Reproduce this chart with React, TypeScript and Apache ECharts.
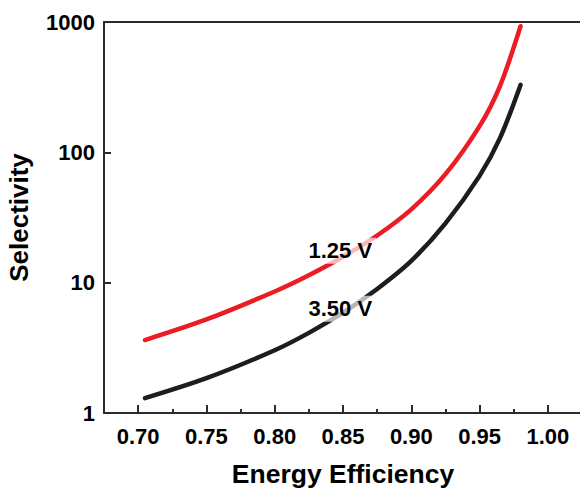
import React, { useEffect, useRef } from "react";
import * as echarts from "echarts";

// Energy efficiency (x) sample positions
const efficiency = [0.705, 0.75, 0.8, 0.825, 0.85, 0.875, 0.9, 0.925, 0.95, 0.965, 0.98];
// Selectivity at 1.25 V (red)
const sel125 = [3.63, 5.22, 8.56, 11.4, 15.8, 23.0, 36.5, 68.0, 159, 324, 928];
// Selectivity at 3.50 V (black)
const sel350 = [1.3, 1.85, 3.03, 4.12, 5.88, 8.95, 14.7, 28.5, 66.0, 129, 329];

const xMajorTicks = [0.7, 0.75, 0.8, 0.85, 0.9, 0.95, 1.0];
const xMinorTicks = [0.725, 0.775, 0.825, 0.875, 0.925, 0.975];
const yTicks = [1, 10, 100, 1000];

const labelTexts = ["1.25 V", "3.50 V"];
const labelX = [0.848, 0.848];
const labelY = [17.6, 6.3];

const FONT = "'Liberation Sans', Arial, Helvetica, sans-serif";

export default function App() {
  const ref = useRef<HTMLDivElement>(null);
  useEffect(() => {
    if (!ref.current) return;
    const chart = echarts.init(ref.current, undefined, { renderer: "svg" });
    const axisColor = "#2b2b2b";
    chart.setOption({
      animation: false,
      backgroundColor: "#ffffff",
      grid: { left: 104, top: 22, bottom: 75, right: -2, containLabel: false, outerBoundsMode: "none" },
      xAxis: [
        {
          type: "value",
          position: "bottom",
          min: 0.675,
          max: 1.025,
          name: "Energy Efficiency",
          nameLocation: "middle",
          nameGap: 47,
          nameTextStyle: { fontFamily: FONT, fontWeight: "bold", fontSize: 26.5, color: "#000" },
          axisLine: { show: true, onZero: false, lineStyle: { color: axisColor, width: 2 } },
          axisTick: { show: true, inside: true, length: 8, customValues: xMajorTicks, lineStyle: { color: axisColor, width: 2 } },
          axisLabel: {
            show: true,
            customValues: xMajorTicks,
            margin: 12,
            fontFamily: FONT,
            fontWeight: "bold",
            fontSize: 22,
            color: "#000",
            formatter: (v: number) => v.toFixed(2),
          },
          splitLine: { show: false },
        },
        {
          type: "value",
          position: "bottom",
          min: 0.675,
          max: 1.025,
          axisLine: { show: false, onZero: false },
          axisTick: { show: true, inside: true, length: 4, customValues: xMinorTicks, lineStyle: { color: axisColor, width: 2 } },
          axisLabel: { show: false },
          splitLine: { show: false },
        },
        {
          type: "value",
          position: "top",
          min: 0.675,
          max: 1.025,
          axisLine: { show: true, onZero: false, lineStyle: { color: axisColor, width: 2 } },
          axisTick: { show: false },
          axisLabel: { show: false },
          splitLine: { show: false },
        },
      ],
      yAxis: {
        type: "log",
        logBase: 10,
        min: 1,
        max: 1000,
        name: "Selectivity",
        nameLocation: "middle",
        nameGap: 72,
        nameTextStyle: { fontFamily: FONT, fontWeight: "bold", fontSize: 26, color: "#000" },
        axisLine: { show: true, onZero: false, lineStyle: { color: axisColor, width: 2 } },
        axisTick: { show: true, inside: true, length: 7, customValues: yTicks, lineStyle: { color: axisColor, width: 2 } },
        minorTick: { show: false },
        axisLabel: {
          show: true,
          customValues: yTicks,
          margin: 9,
          fontFamily: FONT,
          fontWeight: "bold",
          fontSize: 22,
          color: "#000",
          formatter: (v: number) => String(Math.round(v)),
        },
        splitLine: { show: false },
      },
      series: [
        {
          type: "line",
          name: "1.25 V",
          xAxisIndex: 0,
          data: efficiency.map((x, i) => [x, sel125[i]]),
          smooth: 0.3,
          showSymbol: false,
          lineStyle: { color: "#ec1c24", width: 4.5, cap: "round" },
          z: 2,
        },
        {
          type: "line",
          name: "3.50 V",
          xAxisIndex: 0,
          data: efficiency.map((x, i) => [x, sel350[i]]),
          smooth: 0.3,
          showSymbol: false,
          lineStyle: { color: "#1e1c1c", width: 4.5, cap: "round" },
          z: 2,
        },
        {
          type: "scatter",
          xAxisIndex: 0,
          symbolSize: 0,
          z: 5,
          silent: true,
          itemStyle: { opacity: 1 },
          data: labelTexts.map((t, i) => ({ value: [labelX[i], labelY[i]], name: t })),
          label: {
            show: true,
            position: "inside",
            formatter: (p: any) => p.name,
            fontFamily: FONT,
            fontWeight: "bold",
            fontSize: 22,
            color: "#000",
            opacity: 1,
            backgroundColor: "rgba(255,255,255,0.68)",
            padding: [2, 4, 2, 4],
          },
        },
      ],
    });
    return () => chart.dispose();
  }, []);
  return <div ref={ref} style={{ width: 580, height: 488, position: "absolute", left: 0, top: 0 }} />;
}
